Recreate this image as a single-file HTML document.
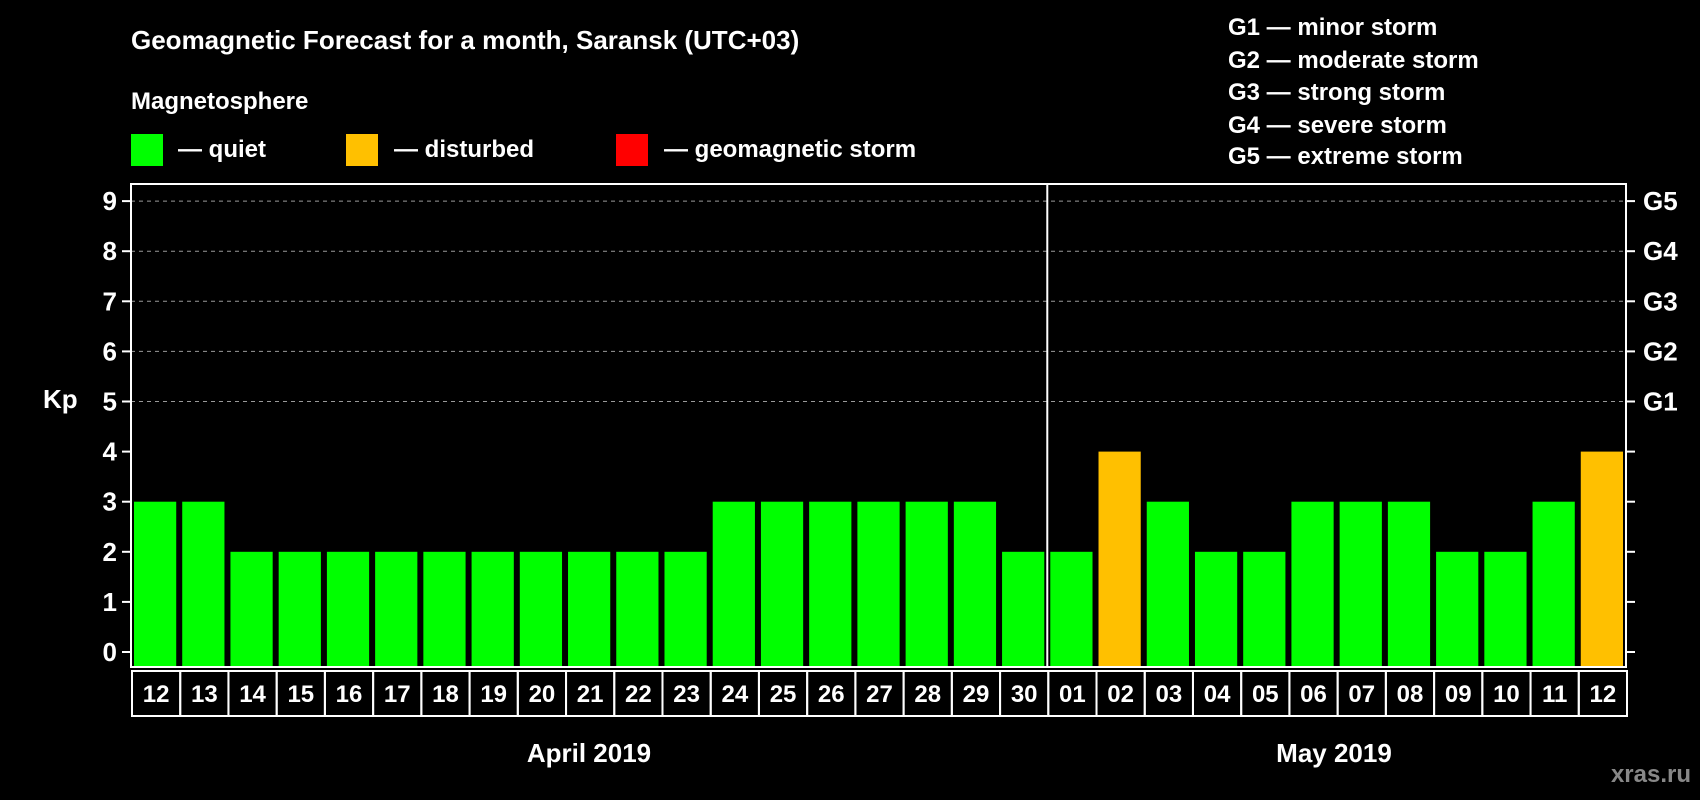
<!DOCTYPE html>
<html><head><meta charset="utf-8"><style>
html,body{margin:0;padding:0;background:#000;}
svg{display:block;font-family:"Liberation Sans",Arial,sans-serif;font-weight:bold;}
</style></head><body>
<svg id="chart" width="1700" height="800" viewBox="0 0 1700 800" xmlns="http://www.w3.org/2000/svg">
<rect width="1700" height="800" fill="#000"/>
<text x="131" y="49" fill="#fff" font-size="26">Geomagnetic Forecast for a month, Saransk (UTC+03)</text>
<text x="131" y="109" fill="#fff" font-size="24">Magnetosphere</text>
<g><rect x="131" y="134" width="32" height="32" fill="#00ff00"/><text x="178" y="157" fill="#fff" font-size="24">— quiet</text></g>
<g><rect x="346" y="134" width="32" height="32" fill="#ffc000"/><text x="394" y="157" fill="#fff" font-size="24">— disturbed</text></g>
<g><rect x="616" y="134" width="32" height="32" fill="#ff0000"/><text x="664" y="157" fill="#fff" font-size="24">— geomagnetic storm</text></g>
<g fill="#fff" font-size="24">
<text x="1228" y="35">G1 — minor storm</text>
<text x="1228" y="68">G2 — moderate storm</text>
<text x="1228" y="100">G3 — strong storm</text>
<text x="1228" y="133">G4 — severe storm</text>
<text x="1228" y="164">G5 — extreme storm</text>
</g>
<text x="43" y="408" fill="#fff" font-size="26">Kp</text>
<g id="plot"></g>
<text x="589" y="762" fill="#fff" font-size="26" text-anchor="middle">April 2019</text>
<text x="1334" y="762" fill="#fff" font-size="26" text-anchor="middle">May 2019</text>
<text x="1691" y="782" fill="#888" font-size="24" text-anchor="end">xras.ru</text>
</svg>
<script>
const days = ["12","13","14","15","16","17","18","19","20","21","22","23","24","25","26","27","28","29","30","01","02","03","04","05","06","07","08","09","10","11","12"];
const kpValues = [3,3,2,2,2,2,2,2,2,2,2,2,3,3,3,3,3,3,2,2,4,3,2,2,3,3,3,2,2,3,4];
const yTicks = [0,1,2,3,4,5,6,7,8,9];
const gLabels = ["G1","G2","G3","G4","G5"];
const gLevels = [5,6,7,8,9];
const monthBreakIndex = 19;

const NS="http://www.w3.org/2000/svg";
const L=131,R=1626,T=184,B=667;
const y0=652,unit=50.1;
const slot=(R-L)/days.length;
const yS=v=>y0-v*unit;
const xS=i=>L+i*slot;
const g=document.getElementById('plot');
function mk(tag,attrs){const e=document.createElementNS(NS,tag);for(const k in attrs)e.setAttribute(k,attrs[k]);g.appendChild(e);return e;}

gLevels.forEach((v,i)=>{
  const ln=mk('line',{x1:L,x2:R,y1:yS(v),y2:yS(v),stroke:'#999','stroke-width':1,'stroke-dasharray':'4,4'});
  
  
  const t=mk('text',{x:R+17,y:yS(v)+9,fill:'#fff','font-size':26});
  t.textContent=gLabels[i];
  
  
});
yTicks.forEach(v=>{
  const tk=mk('line',{x1:L-9,x2:L,y1:yS(v),y2:yS(v),stroke:'#fff','stroke-width':2});
  
  
  const tr=mk('line',{x1:R,x2:R+9,y1:yS(v),y2:yS(v),stroke:'#fff','stroke-width':2});
  
  
  const t=mk('text',{x:L-14,y:yS(v)+9,fill:'#fff','font-size':26,'text-anchor':'end'});
  t.textContent=v;
  
  
});
kpValues.forEach((v,i)=>{
  const bw=slot-6;
  const b=mk('rect',{x:xS(i)+3,y:yS(v),width:bw,height:B-1-yS(v),fill:v>=5?'#ff0000':(v>=4?'#ffc000':'#00ff00')});
  
  
  const box=mk('rect',{x:xS(i)+1,y:B+4,width:slot,height:45,fill:'none',stroke:'#fff','stroke-width':2});
  
  
  const t=mk('text',{x:xS(i)+slot/2+1,y:B+35,fill:'#fff','font-size':24,'text-anchor':'middle'});
  t.textContent=days[i];
  
  
});
const sep=mk('line',{x1:xS(monthBreakIndex),x2:xS(monthBreakIndex),y1:T,y2:B,stroke:'#fff','stroke-width':2});


const frame=mk('rect',{x:L,y:T,width:R-L,height:B-T,fill:'none',stroke:'#fff','stroke-width':2});


</script>
</body></html>
